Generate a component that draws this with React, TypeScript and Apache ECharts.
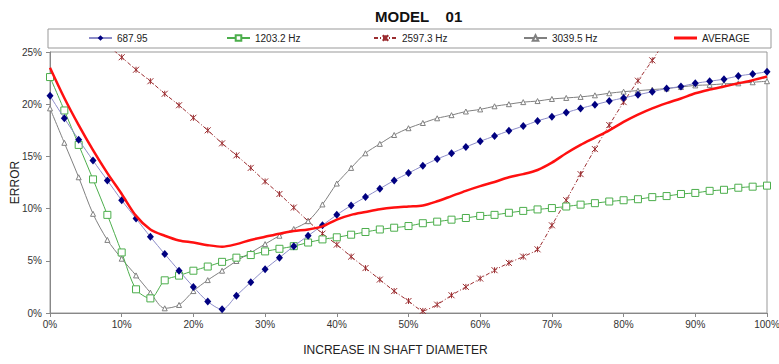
import React, { useEffect, useRef } from "react";
import * as echarts from "echarts";

const xs = [0, 2, 4, 6, 8, 10, 12, 14, 16, 18, 20, 22, 24, 26, 28, 30, 32, 34, 36, 38, 40, 42, 44, 46, 48, 50, 52, 54, 56, 58, 60, 62, 64, 66, 68, 70, 72, 74, 76, 78, 80, 82, 84, 86, 88, 90, 92, 94, 96, 98, 100];

const s687 = [20.8, 18.65, 16.6, 14.6, 12.7, 10.8, 9.05, 7.3, 5.65, 4.05, 2.5, 1.1, 0.35, 1.66, 2.95, 4.2, 5.3, 6.4, 7.4, 8.4, 9.4, 10.3, 11.1, 11.9, 12.7, 13.4, 14.1, 14.75, 15.3, 15.9, 16.45, 16.95, 17.45, 17.9, 18.4, 18.8, 19.2, 19.6, 19.95, 20.3, 20.6, 20.9, 21.2, 21.5, 21.7, 22.0, 22.2, 22.4, 22.7, 22.9, 23.1];

const s1203 = [22.6, 19.4, 16.1, 12.8, 9.4, 5.8, 2.27, 1.4, 3.13, 3.58, 4.05, 4.45, 4.9, 5.3, 5.55, 5.9, 6.15, 6.4, 6.75, 7.05, 7.25, 7.5, 7.76, 8.0, 8.17, 8.33, 8.6, 8.75, 8.94, 9.1, 9.3, 9.4, 9.6, 9.78, 9.92, 10.05, 10.2, 10.38, 10.52, 10.68, 10.8, 10.9, 11.1, 11.2, 11.4, 11.5, 11.7, 11.8, 12.0, 12.1, 12.2];

const s2597 = [null, null, null, null, 25.7, 24.5, 23.3, 22.2, 21.0, 19.9, 18.7, 17.5, 16.25, 15.1, 13.9, 12.6, 11.4, 10.1, 8.8, 7.6, 6.55, 5.4, 4.3, 3.2, 2.1, 1.15, 0.2, 0.8, 1.7, 2.5, 3.3, 4.1, 4.8, 5.4, 6.1, 8.4, 10.8, 13.3, 15.7, 18.0, 20.2, 22.25, 24.2, 26.3, null, null, null, null, null, null, null];

const s3039 = [19.6, 16.3, 13.0, 9.5, 7.0, 5.2, 3.6, 1.95, 0.45, 0.77, 2.1, 3.15, 4.05, 4.98, 5.78, 6.6, 7.4, 8.05, 8.8, 10.4, 12.4, 13.9, 15.3, 16.2, 17.05, 17.7, 18.2, 18.65, 18.95, 19.3, 19.5, 19.8, 20.0, 20.2, 20.3, 20.5, 20.6, 20.7, 20.85, 21.05, 21.2, 21.3, 21.4, 21.5, 21.65, 21.8, 21.85, 21.95, 22.0, 22.1, 22.2];

const sAvg = [23.5, 20.6, 18.0, 15.6, 13.4, 11.4, 9.3, 8.0, 7.4, 6.95, 6.75, 6.5, 6.35, 6.6, 7.0, 7.3, 7.6, 7.85, 8.0, 8.3, 8.95, 9.4, 9.67, 9.93, 10.1, 10.2, 10.3, 10.7, 11.2, 11.7, 12.15, 12.55, 13.0, 13.3, 13.7, 14.4, 15.3, 16.1, 16.8, 17.5, 18.3, 19.0, 19.6, 20.1, 20.55, 21.05, 21.4, 21.7, 22.0, 22.3, 22.65];

const names = ["687.95", "1203.2 Hz", "2597.3 Hz", "3039.5 Hz", "AVERAGE"];
const legendLefts = [88, 226, 373, 523, 674];

const FONT = "Liberation Sans, Arial, sans-serif";

const pair = (arr: (number | null)[]) => xs.map((x, i) => [x, arr[i]]);

export default function App() {
  const ref = useRef<HTMLDivElement>(null);
  useEffect(() => {
    if (!ref.current) return;
    const chart = echarts.init(ref.current, undefined, { renderer: "svg" });
    const option: any = {
      animation: false,
      backgroundColor: "#ffffff",
      title: {
        text: "MODEL    01",
        left: 370,
        top: 4,
        textStyle: { fontFamily: FONT, fontSize: 15, fontWeight: "bold", color: "#111" },
      },
      legend: names.map((n, i) => ({
        data:
          i === 4
            ? [{ name: n, icon: "path://M0,0L23,0L23,3L0,3Z" }]
            : [n],
        left: legendLefts[i],
        top: 33,
        padding: 0,
        itemWidth: 23,
        itemHeight: i === 4 ? 3 : 7,
        selectedMode: false,
        textStyle: { fontFamily: FONT, fontSize: 10, color: "#222" },
      })),
      graphic: [
        {
          type: "rect",
          shape: { x: 48, y: 29, width: 723, height: 19 },
          style: { fill: "none", stroke: "#999", lineWidth: 1 },
          silent: true,
        },
      ],
      grid: {
        left: 50,
        right: 12,
        top: 52,
        bottom: 51,
        show: true,
        borderColor: "#999",
        borderWidth: 1,
        backgroundColor: "transparent",
        containLabel: false,
        outerBoundsMode: "none",
      },
      xAxis: {
        type: "value",
        min: 0,
        max: 100,
        interval: 10,
        name: "INCREASE IN SHAFT DIAMETER",
        nameLocation: "middle",
        nameGap: 31,
        nameMoveOverlap: false,
        nameTextStyle: { fontFamily: FONT, fontSize: 12, color: "#222", padding: [0, 26, 0, 0] },
        axisLine: { show: true, lineStyle: { color: "#888" } },
        axisTick: { show: true, length: 4, lineStyle: { color: "#888" } },
        splitLine: { show: false },
        axisLabel: { formatter: "{value}%", fontFamily: FONT, fontSize: 10, color: "#333", margin: 6 },
      },
      yAxis: {
        type: "value",
        min: 0,
        max: 25,
        interval: 5,
        name: "ERROR",
        nameLocation: "middle",
        nameGap: 29,
        nameMoveOverlap: false,
        nameTextStyle: { fontFamily: FONT, fontSize: 12, color: "#222" },
        axisLine: { show: true, lineStyle: { color: "#888" } },
        axisTick: { show: true, length: 4, lineStyle: { color: "#888" } },
        splitLine: { show: false },
        axisLabel: { formatter: "{value}%", fontFamily: FONT, fontSize: 10, color: "#333", margin: 8 },
      },
      series: [
        {
          name: names[0],
          type: "line",
          data: pair(s687),
          smooth: 0.3,
          symbol: "diamond",
          symbolSize: [7, 8],
          lineStyle: { color: "#8c8cc8", width: 1 },
          itemStyle: { color: "#000080" },
          z: 4,
        },
        {
          name: names[1],
          type: "line",
          data: pair(s1203),
          smooth: 0.3,
          symbol: "rect",
          symbolSize: 7,
          lineStyle: { color: "#4cae4c", width: 1 },
          itemStyle: { color: "#ffffff", borderColor: "#4cae4c", borderWidth: 1 },
          z: 3,
        },
        {
          name: names[2],
          type: "line",
          data: pair(s2597),
          smooth: 0.2,
          symbol: "path://M0,0L10,10M10,0L0,10M5,0L5,10",
          symbolSize: 6,
          lineStyle: { color: "#9b2d30", width: 1, type: [4, 2, 1, 2] },
          itemStyle: { color: "#9b2d30", borderColor: "#9b2d30", borderWidth: 1 },
          z: 2,
        },
        {
          name: names[3],
          type: "line",
          data: pair(s3039),
          smooth: 0.3,
          symbol: "triangle",
          symbolSize: 5,
          lineStyle: { color: "#808080", width: 1 },
          itemStyle: { color: "#ffffff", borderColor: "#808080", borderWidth: 1 },
          z: 2,
        },
        {
          name: names[4],
          type: "line",
          data: pair(sAvg),
          smooth: 0.3,
          symbol: "none",
          showSymbol: false,
          lineStyle: { color: "#ff1010", width: 2.5 },
          itemStyle: { color: "#ff1010" },
          z: 5,
        },
      ],
    };
    chart.setOption(option);
    return () => chart.dispose();
  }, []);
  return (
    <div
      ref={ref}
      style={{ position: "fixed", left: 0, top: 0, width: 779, height: 364, background: "#fff" }}
    />
  );
}
